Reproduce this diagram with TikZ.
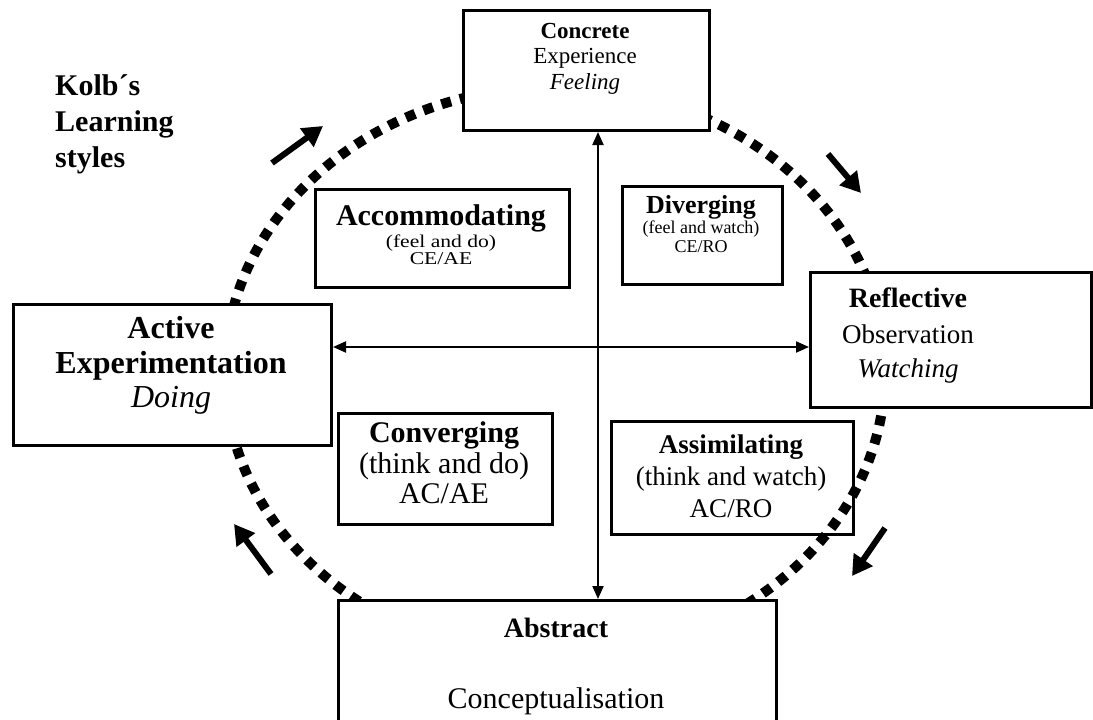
\documentclass[tikz,border=0pt]{standalone}
\usepackage{fontspec}
\setmainfont{Liberation Serif}
\usetikzlibrary{arrows.meta}
\newcommand{\fsz}[1]{\fontsize{#1}{#1}\selectfont}
\tikzset{
  box/.style={draw, line width=3pt, fill=white, anchor=north west, inner sep=0pt},
  ibox/.style={draw, line width=2.6pt, fill=white, anchor=north west, inner sep=0pt},
  txt/.style={anchor=base, inner sep=0pt},
  cyclearrow/.style={line width=6pt, -{Triangle[length=20pt,width=22pt]}},
  axisarrow/.style={line width=2pt, {Triangle[length=13pt,width=11pt]}-{Triangle[length=13pt,width=11pt]}},
  dotring/.style={line width=10pt, dash pattern=on 10pt off 9pt},
}
\begin{document}
\begin{tikzpicture}[x=1pt,y=-1pt]
\useasboundingbox[fill=white] (0,0) rectangle (1093,720);

% inner quadrant boxes
\node[ibox, minimum width=254pt, minimum height=98pt] (accbox) at (314,188) {};
\node[ibox, minimum width=160pt, minimum height=98pt] (divbox) at (621,185) {};
\node[ibox, minimum width=214pt, minimum height=111pt] (conbox) at (337,412) {};
\node[ibox, minimum width=242pt, minimum height=113pt] (assbox) at (610,420) {};

% dotted learning cycle
\draw[dotring] (555,372) ellipse [x radius=330pt, y radius=285pt];

% main boxes
\node[box, minimum width=246pt, minimum height=120pt] (ce) at (462,9) {};
\node[box, minimum width=318pt, minimum height=141pt] (ae) at (12,303) {};
\node[box, minimum width=281pt, minimum height=135pt] (ro) at (809,271) {};
\node[box, minimum width=438pt, minimum height=140pt] (ac) at (337,599) {};

% axes
\coordinate (vx) at (598,0);
\coordinate (hy) at (0,347);
\draw[axisarrow] (ce.south -| vx) -- (ac.north -| vx);
\draw[axisarrow] (ae.east |- hy) -- (ro.west |- hy);

% cycle arrows
\coordinate (a1s) at (272,163); \coordinate (a1e) at (323,126);
\coordinate (a2s) at (828,154); \coordinate (a2e) at (861,193);
\coordinate (a3s) at (885,528); \coordinate (a3e) at (852,576);
\coordinate (a4s) at (271,574); \coordinate (a4e) at (234,524);
\draw[cyclearrow] (a1s) -- (a1e);
\draw[cyclearrow] (a2s) -- (a2e);
\draw[cyclearrow] (a3s) -- (a3e);
\draw[cyclearrow] (a4s) -- (a4e);

% title
\node[anchor=base west, inner sep=0pt, font={\bfseries\fsz{30}}] (t1) at (55,95) {Kolb´s};
\node[anchor=base west, inner sep=0pt, font={\bfseries\fsz{30}}] (t2) at (55,131) {Learning};
\node[anchor=base west, inner sep=0pt, font={\bfseries\fsz{30}}] (t3) at (55,167) {styles};

% Concrete Experience
\node[txt, font={\bfseries\fsz{23}}] (ce1) at (585,38) {Concrete};
\node[txt, font={\fsz{23}}] (ce2) at (585,63) {Experience};
\node[txt, font={\itshape\fsz{23}}] (ce3) at (585,89) {Feeling};

% Active Experimentation
\node[txt, font={\bfseries\fsz{32}}] (ae1) at (171,338) {Active};
\node[txt, font={\bfseries\fsz{32}}] (ae2) at (171,373) {Experimentation};
\node[txt, font={\itshape\fsz{32}}] (ae3) at (171,407) {Doing};

% Reflective Observation
\node[txt, font={\bfseries\fsz{28}}] (ro1) at (908,307) {Reflective};
\node[txt, font={\fsz{27}}] (ro2) at (908,343) {Observation};
\node[txt, font={\itshape\fsz{27}}] (ro3) at (908,377) {Watching};

% Abstract Conceptualisation
\node[txt, font={\bfseries\fsz{28}}] (ac1) at (556,637) {Abstract};
\node[txt, font={\fsz{30}}] (ac2) at (556,708) {Conceptualisation};

% Accommodating
\node[txt, font={\bfseries\fsz{30}}] (acc1) at (441,225) {Accommodating};
\node[txt, font={\fsz{18}}] (acc2) at (441,247) {\scalebox{1.2}[1]{(feel and do)}};
\node[txt, font={\fsz{18}}] (acc3) at (441,264) {\scalebox{1.2}[1]{CE/AE}};

% Diverging
\node[txt, font={\bfseries\fsz{26}}] (div1) at (701,213) {Diverging};
\node[txt, font={\fsz{18}}] (div2) at (701,233) {(feel and watch)};
\node[txt, font={\fsz{18}}] (div3) at (701,252) {CE/RO};

% Converging
\node[txt, font={\bfseries\fsz{30}}] (con1) at (444,442) {Converging};
\node[txt, font={\fsz{30}}] (con2) at (444,473) {(think and do)};
\node[txt, font={\fsz{30}}] (con3) at (444,503) {AC/AE};

% Assimilating
\node[txt, font={\bfseries\fsz{27}}] (ass1) at (731,453) {Assimilating};
\node[txt, font={\fsz{27}}] (ass2) at (731,485) {(think and watch)};
\node[txt, font={\fsz{27}}] (ass3) at (731,517) {AC/RO};
\end{tikzpicture}
\end{document}
